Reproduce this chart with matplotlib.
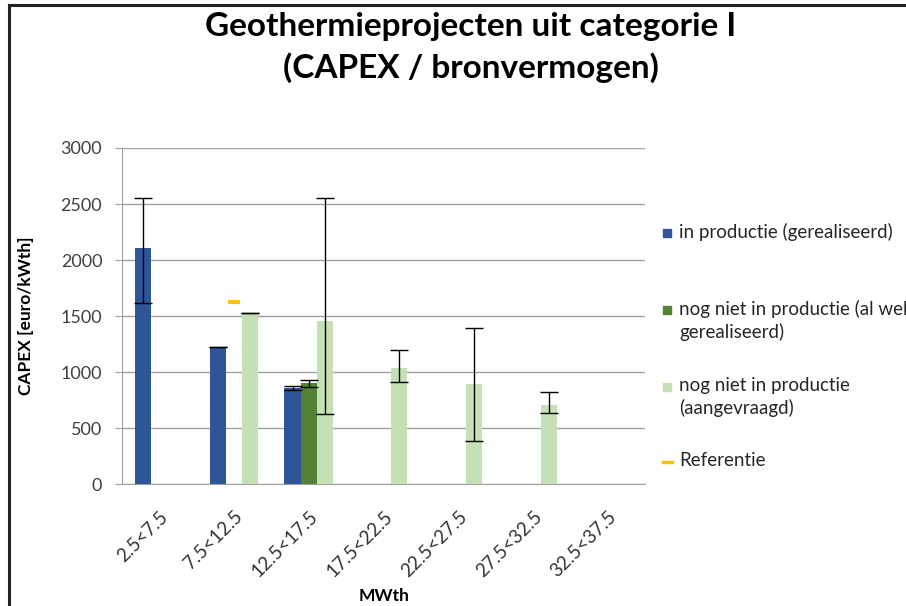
import numpy as np
import matplotlib
matplotlib.use("Agg")
import matplotlib.pyplot as plt
from matplotlib.lines import Line2D
from matplotlib.patches import Rectangle

plt.rcParams['font.family'] = ['Lato', 'DejaVu Sans']

categories = ['2.5<7.5', '7.5<12.5', '12.5<17.5', '17.5<22.5',
              '22.5<27.5', '27.5<32.5', '32.5<37.5']
nan = np.nan

# in productie (gerealiseerd)
in_prod = [2110, 1225, 860, nan, nan, nan, nan]
in_prod_lo = [1615, 1225, 842, nan, nan, nan, nan]
in_prod_hi = [2555, 1225, 877, nan, nan, nan, nan]

# nog niet in productie (al wel gerealiseerd)
gereal = [nan, nan, 900, nan, nan, nan, nan]
gereal_lo = [nan, nan, 866, nan, nan, nan, nan]
gereal_hi = [nan, nan, 930, nan, nan, nan, nan]

# nog niet in productie (aangevraagd)
aangevr = [nan, 1525, 1455, 1040, 895, 710, nan]
aangevr_lo = [nan, 1525, 630, 910, 390, 640, nan]
aangevr_hi = [nan, 1525, 2555, 1200, 1390, 825, nan]

referentie = [nan, 1625, nan, nan, nan, nan, nan]

labels = ['in productie (gerealiseerd)',
          'nog niet in productie (al wel\ngerealiseerd)',
          'nog niet in productie\n(aangevraagd)',
          'Referentie']
colors = ['#2E5597', '#538135', '#C5E0B4']
ref_color = '#FFC000'


def err(vals, lo, hi):
    v = np.array(vals, dtype=float)
    return [v - np.array(lo, dtype=float), np.array(hi, dtype=float) - v]


W, H = 906, 606
fig = plt.figure(figsize=(W / 100, H / 100), dpi=100)
ax = fig.add_axes([0.1343, 0.2008, 0.5777, 0.555])

x = np.arange(len(categories))
w = 0.215
ekw = dict(ecolor='black', elinewidth=1, capsize=6.5, capthick=1)
series = [(in_prod, in_prod_lo, in_prod_hi), (gereal, gereal_lo, gereal_hi),
          (aangevr, aangevr_lo, aangevr_hi)]
for i, (v, lo, hi) in enumerate(series):
    ax.bar(x + (i - 1) * w, v, w, color=colors[i], yerr=err(v, lo, hi),
           error_kw=ekw, zorder=3)
ax.plot(x, referentie, linestyle='none', marker='_', markersize=8,
        markeredgewidth=3, color=ref_color, zorder=4)

ax.set_xlim(-0.5, len(categories) - 0.5)
ax.set_ylim(0, 3000)
ax.set_yticks(np.arange(0, 3001, 500))
ax.yaxis.grid(True, color='#A0A0A0', linewidth=1)
ax.set_axisbelow(True)
for s in ['top', 'right']:
    ax.spines[s].set_visible(False)
for s in ['left', 'bottom']:
    ax.spines[s].set_color('#A0A0A0')
ax.tick_params(axis='y', colors='#A0A0A0', labelcolor='#404040', labelsize=13,
               length=5, pad=9)
ax.tick_params(axis='x', length=0, labelsize=13.5, labelcolor='#333333', pad=17)
ax.set_xticks(x)
ax.set_xticklabels(categories, rotation=45, ha='right', va='top',
                   rotation_mode='anchor')
ax.set_ylabel('CAPEX [euro/kWth]', fontsize=12.5, fontweight='bold', va='center')
ax.yaxis.set_label_coords(-0.183, 0.5)
ax.set_xlabel('MWth', fontsize=12.5, fontweight='bold', va='center')
ax.xaxis.set_label_coords(0.501, -0.332)

fig.text(0.52, 1 - 36 / H, 'Geothermieprojecten uit categorie I', ha='center',
         va='baseline', fontsize=24, fontweight='bold')
fig.text(0.52, 1 - 78 / H, '(CAPEX / bronvermogen)', ha='center',
         va='baseline', fontsize=24, fontweight='bold')

# legend, Excel style: marker next to the first line of each entry
leg_y = [233, 310, 387, 462]
for i, (lab, yy) in enumerate(zip(labels, leg_y)):
    if i < 3:
        fig.add_artist(Rectangle((663 / W, 1 - (yy + 4) / H), 8 / W, 8 / H,
                                 transform=fig.transFigure, color=colors[i]))
    else:
        fig.add_artist(Line2D([663 / W, 672 / W], [1 - yy / H, 1 - yy / H],
                              color=ref_color, linewidth=2.5))
    fig.text(679 / W, 1 - (yy - 10) / H, lab, ha='left', va='top',
             fontsize=13.5, color='#262626', linespacing=1.35)

fig.add_artist(Line2D([8.5 / W, 8.5 / W], [0, 1 - 5 / H], color='#222222',
                      linewidth=2.2))
fig.add_artist(Line2D([8.5 / W, 1], [1 - 5 / H, 1 - 5 / H], color='#222222',
                      linewidth=2.2))

fig.savefig('out.png', dpi=100)
